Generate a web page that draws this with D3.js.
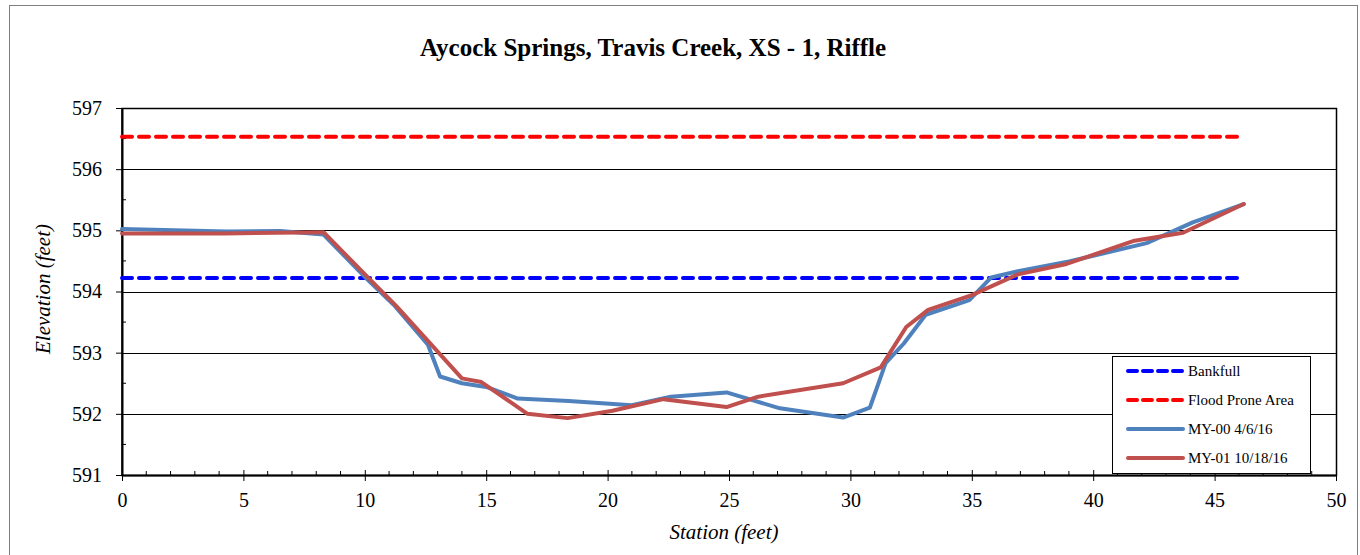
<!DOCTYPE html>
<html>
<head>
<meta charset="utf-8">
<script src="https://cdn.jsdelivr.net/npm/d3@7"></script>
<style>
  body { margin: 0; background: #fff; }
  svg text { font-family: "Liberation Serif", "Times New Roman", Times, "DejaVu Serif", serif; }
</style>
</head>
<body>
<div class="chartcontainer"></div>
<script>
// survey data
const station00 = [0, 4.3, 6.5, 8.3, 10.1, 11.2, 12.6, 13.1, 14.0, 15.0, 16.3, 18.4, 21.0, 22.6, 24.9, 27.1, 29.7, 30.8, 31.45, 32.2, 33.1, 34.9, 35.8, 36.9, 39.0, 42.2, 44.1, 46.2];
const elev00 = [595.02, 594.98, 594.99, 594.93, 594.2, 593.78, 593.13, 592.61, 592.5, 592.44, 592.25, 592.21, 592.14, 592.28, 592.35, 592.09, 591.94, 592.1, 592.83, 593.15, 593.62, 593.86, 594.23, 594.33, 594.49, 594.79, 595.13, 595.43];

const station01 = [0, 4.2, 8.3, 10.3, 11.3, 14.0, 14.8, 16.7, 18.35, 20.2, 22.3, 24.9, 26.2, 29.7, 31.25, 32.3, 33.2, 35.0, 36.9, 38.9, 41.7, 43.7, 46.2];
const elev01 = [594.95, 594.95, 594.97, 594.16, 593.76, 592.58, 592.52, 592.0, 591.93, 592.05, 592.24, 592.11, 592.28, 592.5, 592.76, 593.42, 593.7, 593.94, 594.28, 594.45, 594.83, 594.96, 595.43];

const bankfullX = [0, 46.1];
const bankfull = 594.22;
const floodX = [0, 46.1];
const floodProne = 596.53;

const seriesNames = ['Bankfull', 'Flood Prone Area', 'MY-00 4/6/16', 'MY-01 10/18/16'];
const xTicks = [0, 5, 10, 15, 20, 25, 30, 35, 40, 45, 50];
const yTicks = [591, 592, 593, 594, 595, 596, 597];

const W = 1360;
const H = 555;
const margin = {top: 108, right: 24, bottom: 80, left: 122};
const width = W - margin.left - margin.right;
const height = 475 - margin.top;

const svg = d3
  .select('.chartcontainer')
  .append('svg')
  .attr('width', W)
  .attr('height', H);

// outer chart frame
svg
  .append('rect')
  .attr('x', 9.5)
  .attr('y', 5.5)
  .attr('width', 1348)
  .attr('height', 570)
  .attr('fill', 'none')
  .attr('stroke', '#7f7f7f')
  .attr('stroke-width', 1);

svg
  .append('text')
  .attr('x', 653)
  .attr('y', 56)
  .attr('text-anchor', 'middle')
  .style('font-size', '25px')
  .style('font-weight', 'bold')
  .text('Aycock Springs, Travis Creek, XS - 1, Riffle');

const g = svg.append('g').attr('transform', `translate(${margin.left},${margin.top})`);

const x = d3.scaleLinear().domain([0, 50]).range([0, width]);
const y = d3.scaleLinear().domain([591, 597]).range([height, 0]);

// gridlines
g.selectAll('.grid')
  .data(yTicks.slice(1))
  .enter()
  .append('line')
  .attr('class', 'grid')
  .attr('x1', 0)
  .attr('x2', width)
  .attr('y1', d => Math.round(y(d)) + 0.5)
  .attr('y2', d => Math.round(y(d)) + 0.5)
  .attr('stroke', '#000')
  .attr('stroke-width', 1);

// plot frame
g.append('rect')
  .attr('x', 0)
  .attr('y', 0.5)
  .attr('width', width + 0.5)
  .attr('height', height)
  .attr('fill', 'none')
  .attr('stroke', '#000')
  .attr('stroke-width', 1.5);

// minor ticks (inside)
const yMinor = d3.range(591.5, 597, 1);
g.selectAll('.yminor')
  .data(yMinor)
  .enter()
  .append('line')
  .attr('x1', 0)
  .attr('x2', 4)
  .attr('y1', d => y(d))
  .attr('y2', d => y(d))
  .attr('stroke', '#000');

const xMinor = d3.range(1, 50, 1).filter(d => d % 5 !== 0);
g.selectAll('.xminor')
  .data(xMinor)
  .enter()
  .append('line')
  .attr('x1', d => x(d))
  .attr('x2', d => x(d))
  .attr('y1', height)
  .attr('y2', height - 4)
  .attr('stroke', '#000');

const xAxis = g
  .append('g')
  .attr('transform', `translate(0,${height})`)
  .call(d3.axisBottom(x).tickValues(xTicks).tickFormat(d3.format('d')).tickSize(6).tickSizeOuter(0).tickPadding(12));
xAxis.attr('font-family', null);
xAxis.select('.domain').attr('stroke-width', 2);
xAxis.selectAll('.tick line').attr('y1', -5);
xAxis.selectAll('text').style('font-size', '20px');

const yAxis = g
  .append('g')
  .call(d3.axisLeft(y).tickValues(yTicks).tickFormat(d3.format('d')).tickSize(6).tickSizeOuter(0).tickPadding(14));
yAxis.attr('font-family', null);
yAxis.select('.domain').attr('stroke-width', 2);
yAxis.selectAll('text').style('font-size', '20px');

// axis titles
svg
  .append('text')
  .attr('x', 724)
  .attr('y', 539)
  .attr('text-anchor', 'middle')
  .style('font-size', '21px')
  .style('font-style', 'italic')
  .text('Station (feet)');

svg
  .append('text')
  .attr('transform', 'translate(50,289) rotate(-90)')
  .attr('text-anchor', 'middle')
  .style('font-size', '21px')
  .style('font-style', 'italic')
  .text('Elevation (feet)');

const line = d3.line().x(d => x(d[0])).y(d => y(d[1]));

const series = [
  {name: seriesNames[0], pts: bankfullX.map(s => [s, bankfull]), color: '#0000ff', dash: '10,7'},
  {name: seriesNames[1], pts: floodX.map(s => [s, floodProne]), color: '#ff0000', dash: '10,7'},
  {name: seriesNames[2], pts: station00.map((s, i) => [s, elev00[i]]), color: '#4f81bd', dash: null},
  {name: seriesNames[3], pts: station01.map((s, i) => [s, elev01[i]]), color: '#c0504d', dash: null},
];

g.selectAll('.series')
  .data(series)
  .enter()
  .append('path')
  .attr('class', 'series')
  .attr('d', d => line(d.pts))
  .attr('fill', 'none')
  .attr('stroke', d => d.color)
  .attr('stroke-width', 4)
  .attr('stroke-linejoin', 'round')
  .attr('stroke-linecap', 'round')
  .attr('stroke-dasharray', d => d.dash);

// legend
const legend = svg.append('g').attr('transform', 'translate(1112,356)');
legend
  .append('rect')
  .attr('x', 0.5)
  .attr('y', 0.5)
  .attr('width', 198)
  .attr('height', 117)
  .attr('fill', '#fff')
  .attr('stroke', '#000');

const items = legend
  .selectAll('.legenditem')
  .data(series)
  .enter()
  .append('g')
  .attr('class', 'legenditem')
  .attr('transform', (d, i) => `translate(0,${15 + i * 29})`);

items
  .append('line')
  .attr('x1', 16)
  .attr('x2', 71)
  .attr('stroke', d => d.color)
  .attr('stroke-width', 4)
  .attr('stroke-linecap', 'round')
  .attr('stroke-dasharray', d => (d.dash ? '9,6' : null));

items
  .append('text')
  .attr('x', 76)
  .attr('dy', '0.35em')
  .style('font-size', '15px')
  .text(d => d.name);
</script>
</body>
</html>
